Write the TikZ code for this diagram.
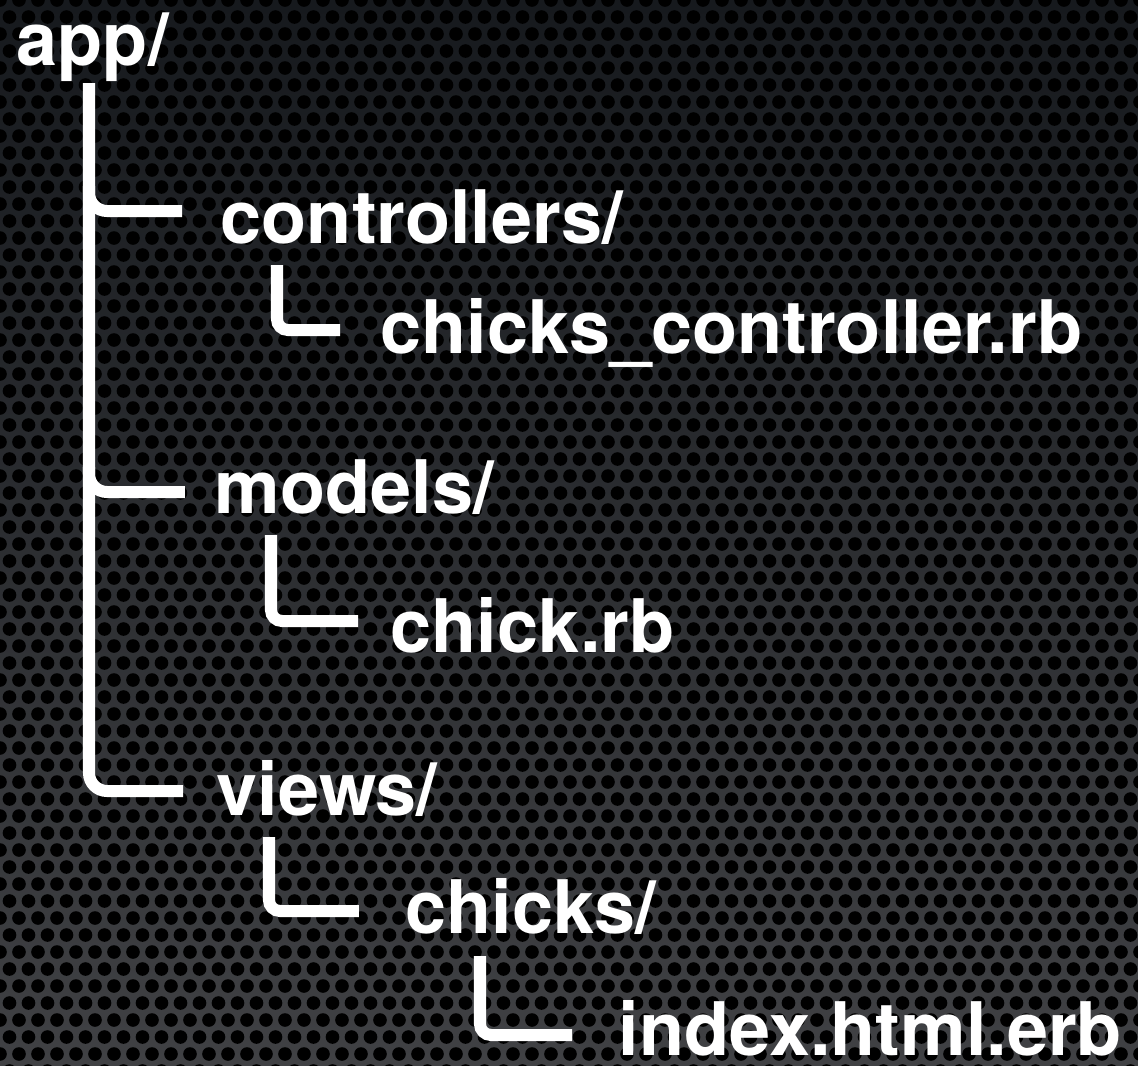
\documentclass[tikz,border=0pt]{standalone}
\usepackage{fontspec}
\setmainfont{TeX Gyre Heros}
\usepackage{tikz}
\usetikzlibrary{positioning}
\definecolor{plateTop}{HTML}{16191D}
\definecolor{plateBot}{HTML}{404144}

\tikzset{
  dir/.style={anchor=base west, inner sep=0pt, text=white,
    font=\fontsize{21pt}{24pt}\selectfont\bfseries},
  branch/.style={draw=white, line width=0.12cm, rounded corners=0.11cm},
  joint/.style={draw=white, line width=0.12cm, rounded corners=0.18cm},
  hole/.style={fill=black}
}

\begin{document}
\begin{tikzpicture}[x=0.01cm,y=-0.01cm]
\useasboundingbox (0,0) rectangle (1138,1066);
% perforated plate
\shade[top color=plateTop, bottom color=plateBot] (0,0) rectangle (1138,1066);
\foreach \r in {0,...,63}{
  \pgfmathsetmacro{\off}{mod(\r,2)*9.5}
  \fill[hole] \foreach \c in {0,...,60}{ ({\c*19+\off},{\r*17}) circle (0.068cm) };
}

% folders and files
\node[dir] (app) at (16,65) {app/};
\node[dir] (controllers) at (220,243) {controllers/};
\node[dir] (ctrlfile) at (380,353) {chicks\_controller.rb};
\node[dir] (models) at (214,513) {models/};
\node[dir] (modelfile) at (390,652) {chick.rb};
\node[dir] (views) at (216,815) {views/};
\node[dir] (chicks) at (405,933) {chicks/};
\node[dir] (index) at (618,1055) {index.html.erb};

% tree lines
\coordinate (trunktop) at (89,83);
\coordinate (ctrlend) at (182,211);
\coordinate (modelsend) at (185,492);
\coordinate (viewsend) at (183,791);
\coordinate (ctrlsub) at (277,265);
\coordinate (ctrlsubend) at (340,330);
\coordinate (modelsub) at (271,535);
\coordinate (modelsubend) at (358,621);
\coordinate (viewsub) at (269,837);
\coordinate (viewsubend) at (359,911);
\coordinate (chickssub) at (480,956);
\coordinate (chickssubend) at (572,1035);

\draw[joint] (trunktop) |- (viewsend);
\draw[joint] (trunktop |- ctrlend) ++(0,-25) |- (ctrlend);
\draw[joint] (trunktop |- modelsend) ++(0,-25) |- (modelsend);
\draw[branch] (ctrlsub) |- (ctrlsubend);
\draw[branch] (modelsub) |- (modelsubend);
\draw[branch] (viewsub) |- (viewsubend);
\draw[branch] (chickssub) |- (chickssubend);
\end{tikzpicture}
\end{document}
